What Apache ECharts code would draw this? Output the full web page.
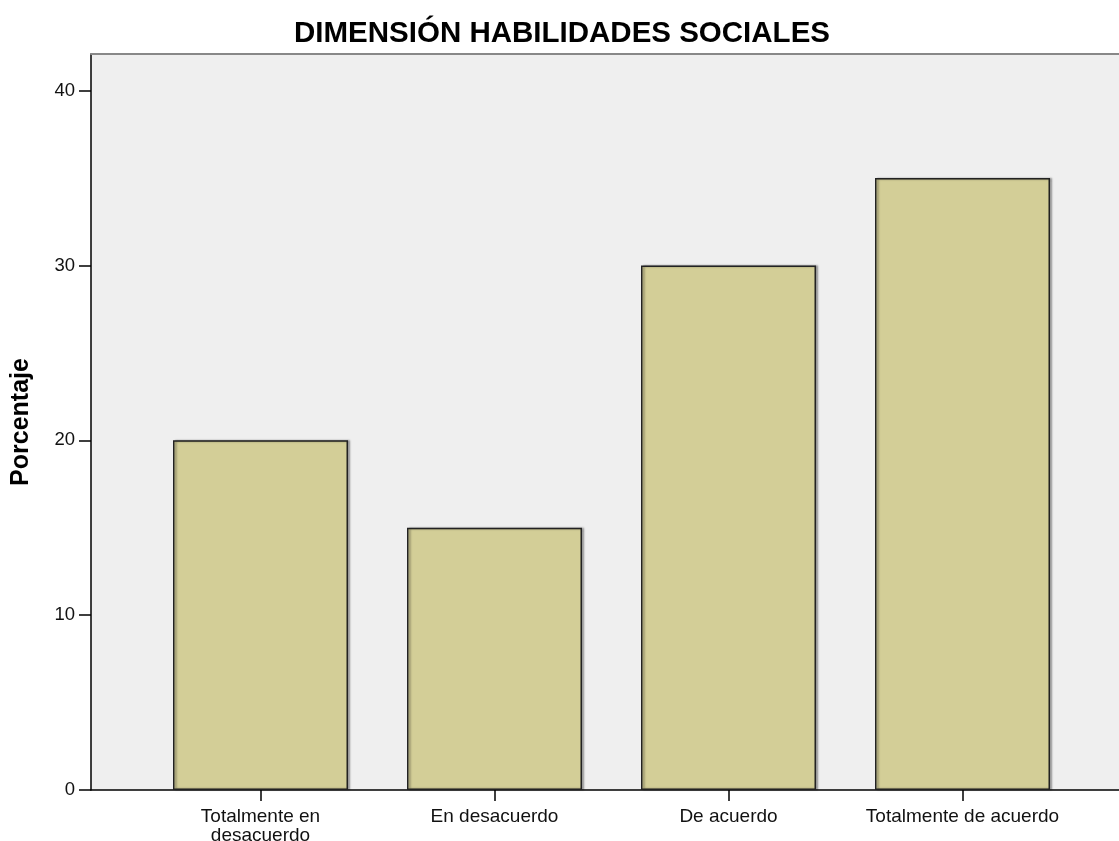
<!DOCTYPE html>
<html>
<head>
<meta charset="utf-8">
<script src="https://cdn.jsdelivr.net/npm/echarts@6/dist/echarts.min.js"></script>
<style>
  html, body { margin: 0; padding: 0; background: #fff; }
  #chart { width: 1119px; height: 841px; }
</style>
</head>
<body>
<div id="chart"></div>
<script>
// datos del gráfico
const categorias = ["Totalmente en\ndesacuerdo", "En desacuerdo", "De acuerdo", "Totalmente de acuerdo"];
const porcentajes = [20, 15, 30, 35];
const ticksY = [0, 10, 20, 30, 40];

const chart = echarts.init(document.getElementById("chart"));

const option = {
  animation: false,
  title: {
    text: "DIMENSIÓN HABILIDADES SOCIALES",
    left: 557,
    top: 14,
    textAlign: "center",
    textStyle: {
      fontFamily: "Liberation Sans",
      fontWeight: "bold",
      fontSize: 29.5,
      color: "#000",
    },
  },
  grid: [
    // marco (fondo gris + ejes)
    { left: 91, right: 0, top: 54, bottom: 51, show: true, backgroundColor: "#efefef", borderWidth: 0, outerBoundsMode: "none" },
    // barras
    { left: 143.5, width: 936, top: 54, bottom: 51, outerBoundsMode: "none" },
  ],
  xAxis: [
    {
      gridIndex: 0, type: "value", min: 0, max: 1,
      axisLine: { show: true, lineStyle: { color: "#000", width: 1.5 } },
      axisTick: { show: false }, axisLabel: { show: false }, splitLine: { show: false },
    },
    {
      gridIndex: 0, type: "value", min: 0, max: 1, position: "top",
      axisLine: { show: true, lineStyle: { color: "#888", width: 2 } },
      axisTick: { show: false }, axisLabel: { show: false }, splitLine: { show: false },
    },
    {
      gridIndex: 1, type: "category", data: categorias,
      axisLine: { show: false },
      axisTick: { show: true, alignWithLabel: true, length: 11, lineStyle: { color: "#000", width: 1.5 } },
      axisLabel: {
        fontFamily: "Liberation Sans", fontSize: 19, color: "#111",
        margin: 17, lineHeight: 19, interval: 0,
      },
    },
  ],
  yAxis: [
    {
      gridIndex: 0, type: "value", min: 0, max: 42.1,
      name: "Porcentaje",
      nameLocation: "middle",
      nameGap: 57,
      nameTextStyle: { fontFamily: "Liberation Sans", fontWeight: "bold", fontSize: 25, color: "#000" },
      axisLine: { show: true, lineStyle: { color: "#000", width: 1.5 } },
      axisTick: { show: true, length: 12, customValues: ticksY, lineStyle: { color: "#000", width: 1.5 } },
      axisLabel: { customValues: ticksY, fontFamily: "Liberation Sans", fontSize: 18.5, color: "#111", margin: 16 },
      splitLine: { show: false },
    },
    {
      gridIndex: 1, type: "value", min: 0, max: 42.1, show: false,
    },
  ],
  series: [
    {
      type: "bar",
      xAxisIndex: 2,
      yAxisIndex: 1,
      data: porcentajes,
      barWidth: 175,
      itemStyle: {
        color: "#d3ce97",
        borderColor: "#222",
        borderWidth: 1.5,
        shadowColor: "rgba(0,0,0,0.35)",
        shadowBlur: 2,
        shadowOffsetX: 2,
        shadowOffsetY: 0,
      },
    },
  ],
};

chart.setOption(option);
</script>
</body>
</html>
